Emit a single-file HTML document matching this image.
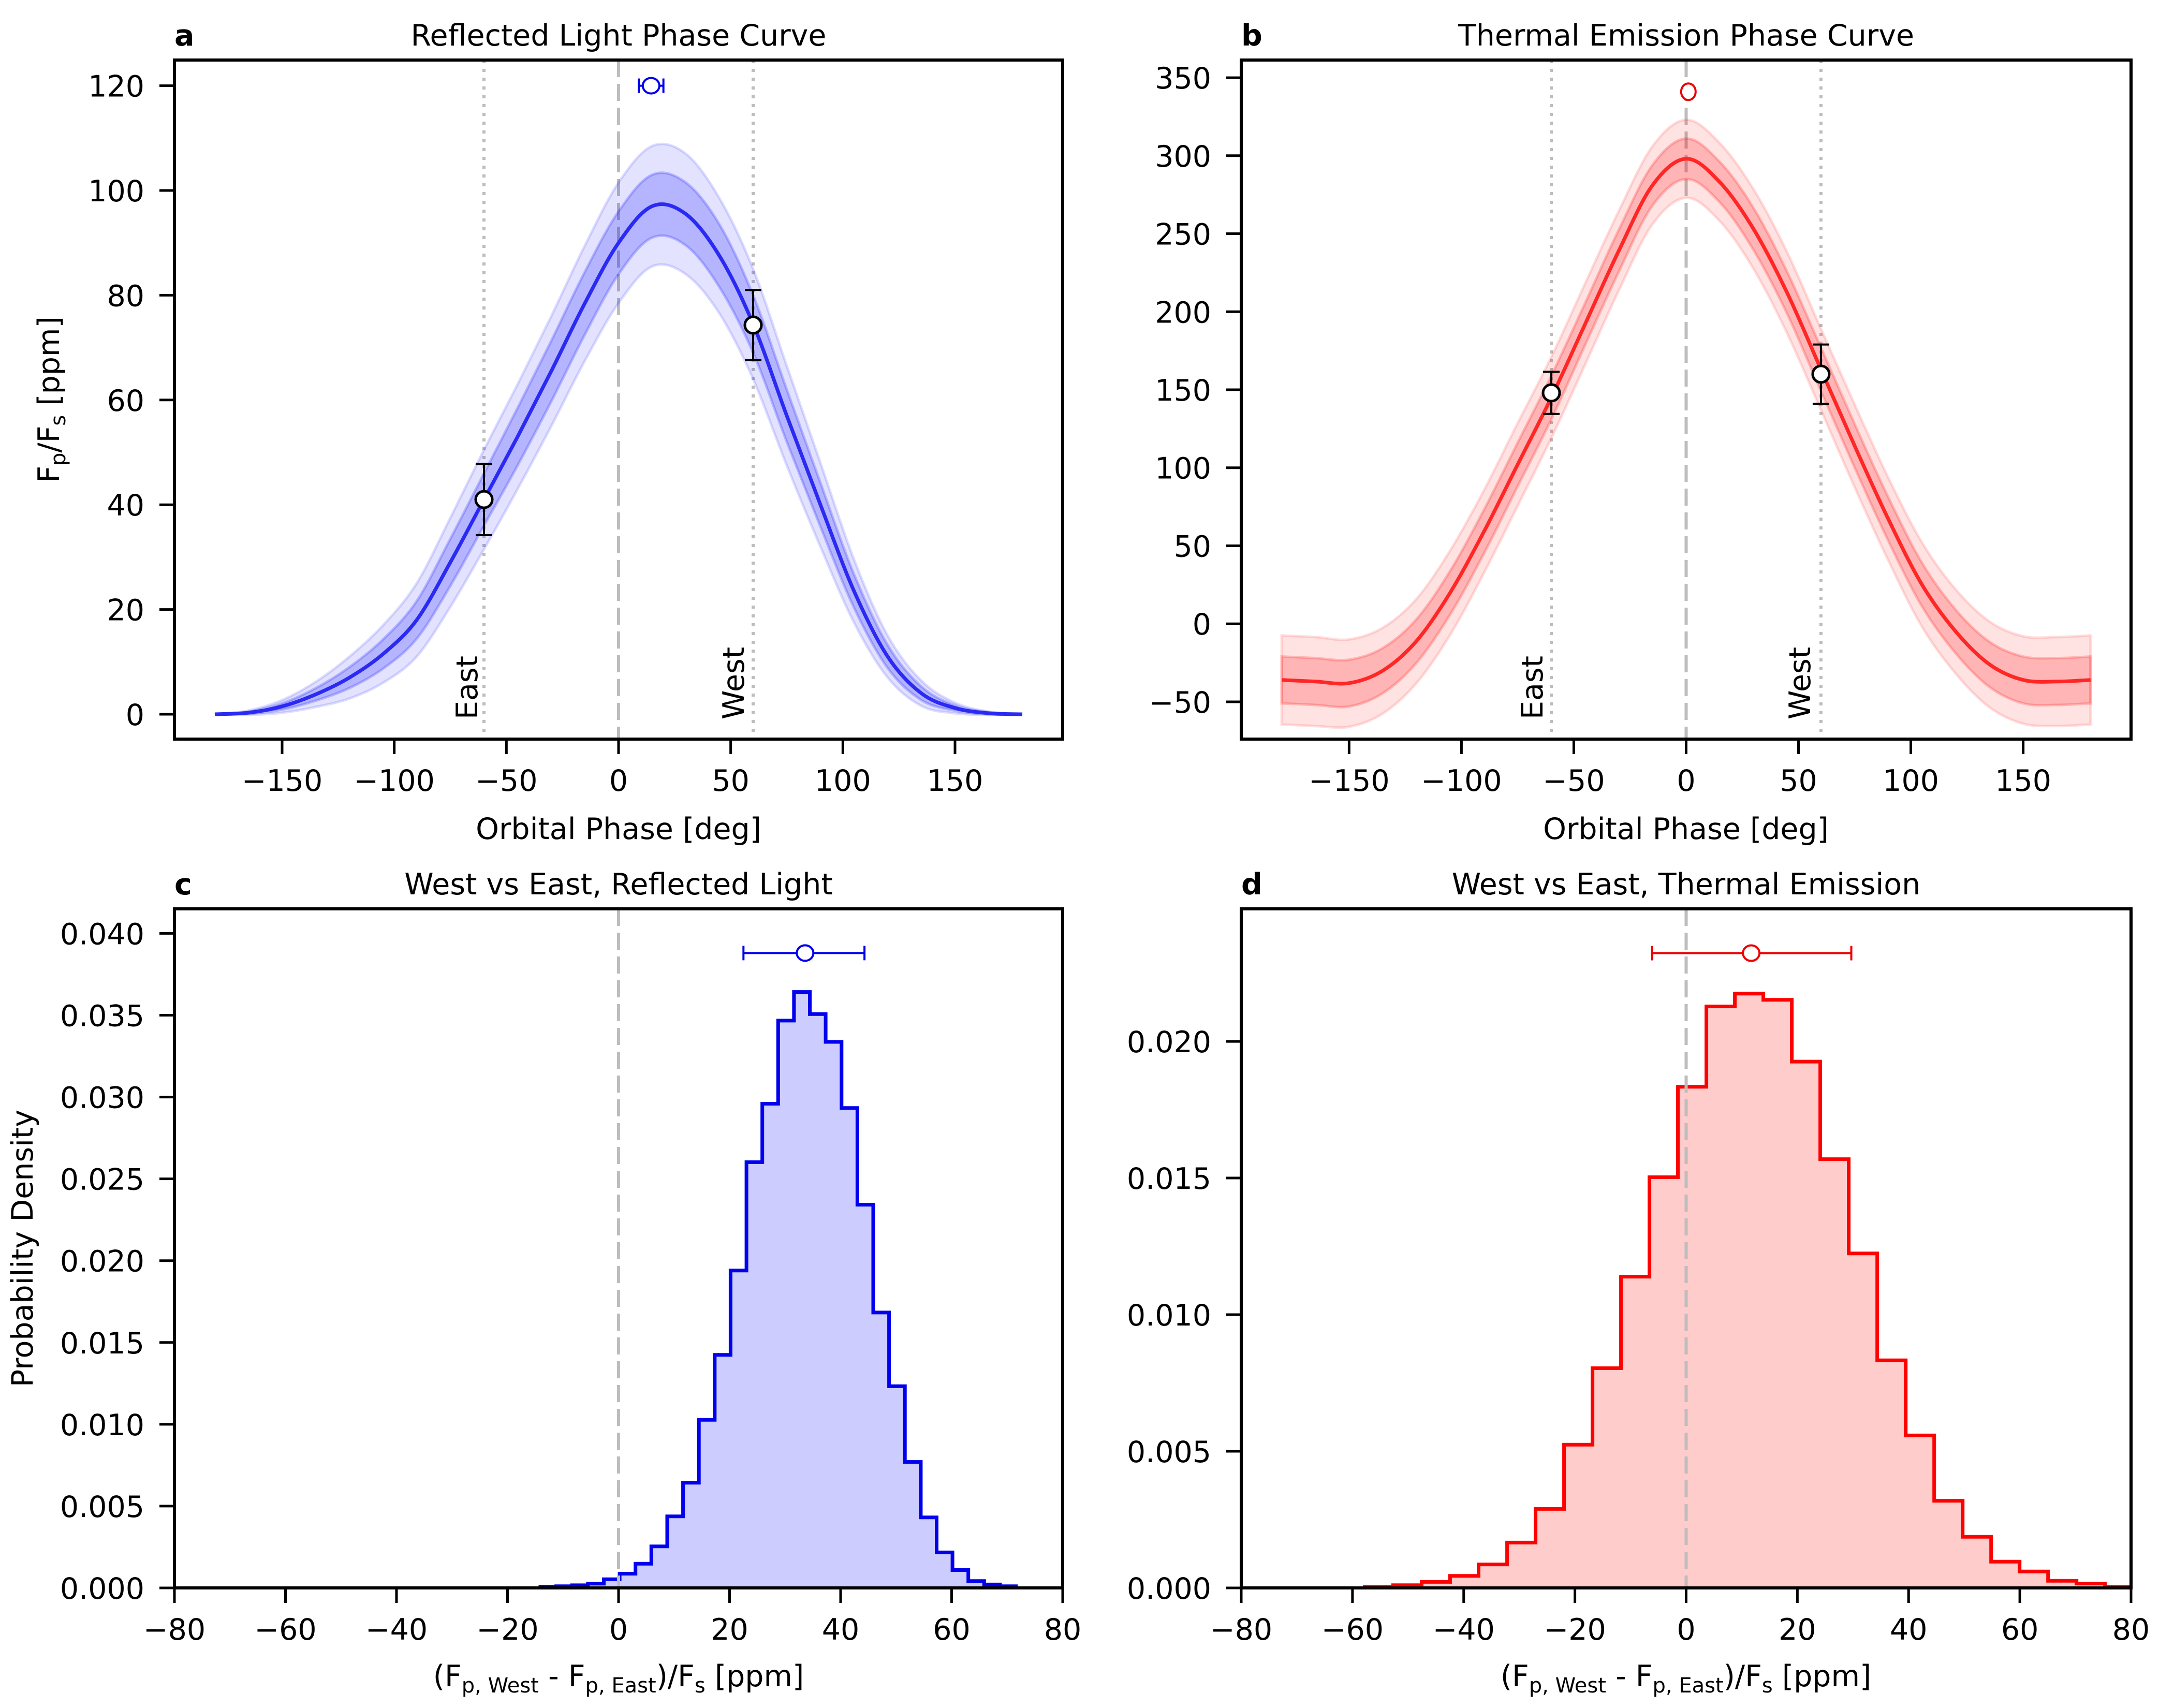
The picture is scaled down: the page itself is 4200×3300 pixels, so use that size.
<!DOCTYPE html>
<html><head><meta charset="utf-8"><title>Phase curves</title>
<style>
html,body{margin:0;padding:0;background:#fff;}
svg{display:block;font-family:"DejaVu Sans","Liberation Sans",sans-serif;}
</style></head>
<body>
<svg id="fig" xmlns="http://www.w3.org/2000/svg" width="4200" height="3300" viewBox="0 0 4200 3300">
<rect x="0" y="0" width="4200" height="3300" fill="#fff"/>
</svg>
<script>
// ---------- Panel a: reflected light phase curve ----------
const phaseA = [-180,-165,-150,-135,-120,-105,-90,-75,-60,-45,-30,-15,0,15,30,45,60,75,90,105,120,135,150,165,180];
const meanA  = [0,0.3,1.5,3.8,7,11.5,18,29,41,53,65.5,78.5,90,97,95.5,87.5,74.5,57,40,23.5,11,4,1.2,0.2,0];
const sig1A  = [0,0.2,0.6,1.2,2,2.8,3.6,4.5,5,5.5,5.8,6,6,6,6,6,5.5,5,4.2,3.2,2.2,1.3,0.5,0.2,0];
const sig2A  = [0,0.4,1.2,2.4,4,5.5,7,8.5,9.5,10,10.5,11,11.5,11.5,11.5,11,10.5,9.5,8,6,4,2.4,1,0.3,0];
const ptsAx = [-60,60];
const ptsAy = [41,74.3];
const ptsAerr = [6.8,6.7];
const hotA = [14.5,120,5.5];
const ticksAx = [-150,-100,-50,0,50,100,150];
const ticksAy = [0,20,40,60,80,100,120];
// ---------- Panel b: thermal emission phase curve ----------
const phaseB = [-180,-165,-150,-135,-120,-105,-90,-75,-60,-45,-30,-15,0,15,30,45,60,75,90,105,120,135,150,165,180];
const meanB  = [-36,-37,-38,-30,-11,20,59,102,145,192,239,281,298,283,253,212,163,114,67,25,-5,-26,-36,-37,-36];
const sig1B  = [15,15,15,14.5,14,14,14,14,14,13.5,13.5,13,13,13,13.5,13.5,14,14,14,14,14,14.5,15,15,15];
const sig2B  = [28.5,28.5,28,27.5,27,27,26.5,26.5,26,26,25.5,25,25,25,25.5,26,26,26.5,26.5,27,27,27.5,28,28.5,28.5];
const ptsBx = [-60,60];
const ptsBy = [148,160];
const ptsBerr = [13.5,19];
const hotB = [1,341];
const ticksBx = [-150,-100,-50,0,50,100,150];
const ticksBy = [-50,0,50,100,150,200,250,300,350];
// ---------- Panel c: reflected histogram ----------
const histCstart = -14.08;
const histCwidth = 2.855;
const histC = [0.00008,0.0001,0.00016,0.00026,0.00053,0.00087,0.00148,0.00254,0.00437,0.00643,0.01027,0.01424,0.0194,0.02602,0.02959,0.03467,0.03642,0.03507,0.03337,0.02933,0.02342,0.01683,0.01233,0.0077,0.00431,0.00217,0.00109,0.00042,0.00021,0.0001];
const summC = [33.6,22.5,44.3,0.0388];
const ticksCx = [-80,-60,-40,-20,0,20,40,60,80];
const ticksCy = [0,0.005,0.01,0.015,0.02,0.025,0.03,0.035,0.04];
// ---------- Panel d: thermal histogram ----------
const histDstart = -57.8;
const histDwidth = 5.12;
const histD = [0.00004,0.0001,0.00022,0.00044,0.00086,0.00166,0.00289,0.00524,0.00804,0.01139,0.01503,0.01834,0.02128,0.02175,0.02152,0.01926,0.01569,0.01224,0.00833,0.00558,0.00319,0.00187,0.00096,0.0006,0.00026,0.00016,0.00004];
const summD = [11.7,-6.1,29.7,0.02323];
const ticksDx = [-80,-60,-40,-20,0,20,40,60,80];
const ticksDy = [0,0.005,0.01,0.015,0.02];

const NS = "http://www.w3.org/2000/svg";
const FS = 57;
const svg = document.getElementById('fig');
function mk(tag, attrs, parent){
  const e = document.createElementNS(NS, tag);
  for (const k in attrs) e.setAttribute(k, attrs[k]);
  (parent||svg).appendChild(e);
  return e;
}
function axes(L,R,T,B,x0,x1,y0,y1){
  return {L,R,T,B,sx:v=>L+(v-x0)/(x1-x0)*(R-L), sy:v=>B-(v-y0)/(y1-y0)*(B-T)};
}
function smooth(pts){
  let d = 'M'+pts[0][0].toFixed(1)+','+pts[0][1].toFixed(1);
  for (let i=0;i<pts.length-1;i++){
    const p0=pts[Math.max(0,i-1)],p1=pts[i],p2=pts[i+1],p3=pts[Math.min(pts.length-1,i+2)];
    const c1=[p1[0]+(p2[0]-p0[0])/6,p1[1]+(p2[1]-p0[1])/6];
    const c2=[p2[0]-(p3[0]-p1[0])/6,p2[1]-(p3[1]-p1[1])/6];
    d+=' C'+c1[0].toFixed(1)+','+c1[1].toFixed(1)+' '+c2[0].toFixed(1)+','+c2[1].toFixed(1)+' '+p2[0].toFixed(1)+','+p2[1].toFixed(1);
  }
  return d;
}
function smoothBack(pts){
  const r = pts.slice().reverse();
  const s = smooth(r);
  return ' L'+s.slice(1);
}
function fmt(v,dec){ const s=v.toFixed(dec); return s.replace('-','\u2212'); }

function frame(ax, xt, yt, xdec, ydec, title, letter, name){
  xt.forEach(v=>{
    const x=ax.sx(v);
    const t=mk('line',{x1:x,y1:ax.B,x2:x,y2:ax.B+29,stroke:'#000','stroke-width':5});
    
    
    const l=mk('text',{x:x,y:ax.B+100,'font-size':FS,'text-anchor':'middle',fill:'#000'});
    l.textContent=fmt(v,xdec);
    
    
  });
  yt.forEach(v=>{
    const y=ax.sy(v);
    const t=mk('line',{x1:ax.L-29,y1:y,x2:ax.L,y2:y,stroke:'#000','stroke-width':5});
    
    
    const l=mk('text',{x:ax.L-58,y:y+21,'font-size':FS,'text-anchor':'end',fill:'#000'});
    l.textContent=fmt(v,ydec);
    
    
  });
  const sp=mk('rect',{x:ax.L,y:ax.T,width:ax.R-ax.L,height:ax.B-ax.T,fill:'none',stroke:'#000','stroke-width':6});
  
  
  const tt=mk('text',{x:(ax.L+ax.R)/2,y:ax.T-28,'font-size':FS,'text-anchor':'middle',fill:'#000'});
  tt.textContent=title;
  
  
  const lt=mk('text',{x:ax.L,y:ax.T-28,'font-size':FS,'font-weight':'bold',fill:'#000'});
  lt.textContent=letter;
  
  
}
function vline(ax, v, dash, color, name){
  const x=ax.sx(v);
  const l=mk('line',{x1:x,y1:ax.T,x2:x,y2:ax.B,stroke:color,'stroke-width':6,'stroke-dasharray':dash});
  
  
}
function rotText(x,y,txt,name){
  const t=mk('text',{x:0,y:0,'font-size':FS,'text-anchor':'start',fill:'#000',transform:'translate('+x+','+y+') rotate(-90)'});
  t.textContent=txt;
  
  
  return t;
}
function curvePanel(ax, xs, mean, s1, s2, rgb, lineCol, name){
  const up2=xs.map((x,i)=>[ax.sx(x),ax.sy(mean[i]+s2[i])]);
  const lo2=xs.map((x,i)=>[ax.sx(x),ax.sy(mean[i]-s2[i])]);
  const up1=xs.map((x,i)=>[ax.sx(x),ax.sy(mean[i]+s1[i])]);
  const lo1=xs.map((x,i)=>[ax.sx(x),ax.sy(mean[i]-s1[i])]);
  const b2=mk('path',{d:smooth(up2)+smoothBack(lo2)+' Z',fill:'rgba('+rgb+',0.11)',stroke:'rgba('+rgb+',0.13)','stroke-width':5});
  
  
  const b1=mk('path',{d:smooth(up1)+smoothBack(lo1)+' Z',fill:'rgba('+rgb+',0.2)',stroke:'rgba('+rgb+',0.2)','stroke-width':5});
  
  
  const m=mk('path',{d:smooth(xs.map((x,i)=>[ax.sx(x),ax.sy(mean[i])])),fill:'none',stroke:lineCol,'stroke-width':7});
  
  
}
function errPoint(ax,x,y,e,name){
  const X=ax.sx(x),y1=ax.sy(y-e),y2=ax.sy(y+e);
  const g=mk('g',{});
  
  
  mk('line',{x1:X,y1:y1,x2:X,y2:y2,stroke:'#000','stroke-width':4},g);
  mk('line',{x1:X-16,y1:y1,x2:X+16,y2:y1,stroke:'#000','stroke-width':4},g);
  mk('line',{x1:X-16,y1:y2,x2:X+16,y2:y2,stroke:'#000','stroke-width':4},g);
  mk('circle',{cx:X,cy:ax.sy(y),r:16,fill:'#fff',stroke:'#000','stroke-width':5},g);
}
function hErr(ax,c,lo,hi,y,col,name){
  const g=mk('g',{});
  
  
  const Y=ax.sy(y);
  mk('line',{x1:ax.sx(lo),y1:Y,x2:ax.sx(hi),y2:Y,stroke:col,'stroke-width':4},g);
  mk('line',{x1:ax.sx(lo),y1:Y-14,x2:ax.sx(lo),y2:Y+14,stroke:col,'stroke-width':4},g);
  mk('line',{x1:ax.sx(hi),y1:Y-14,x2:ax.sx(hi),y2:Y+14,stroke:col,'stroke-width':4},g);
  mk('ellipse',{cx:ax.sx(c),cy:Y,rx:16,ry:15,fill:'#fff',stroke:col,'stroke-width':4},g);
}
function hist(ax,start,w,vals,fillC,lineC,name,clipId){
  let d='M'+ax.sx(start).toFixed(1)+','+ax.sy(0).toFixed(1);
  vals.forEach((v,i)=>{
    d+=' L'+ax.sx(start+i*w).toFixed(1)+','+ax.sy(v).toFixed(1);
    d+=' L'+ax.sx(start+(i+1)*w).toFixed(1)+','+ax.sy(v).toFixed(1);
  });
  d+=' L'+ax.sx(start+vals.length*w).toFixed(1)+','+ax.sy(0).toFixed(1);
  const cp=mk('clipPath',{id:clipId});
  mk('rect',{x:ax.L,y:ax.T,width:ax.R-ax.L,height:ax.B-ax.T},cp);
  const f=mk('path',{d:d+' Z',fill:fillC,stroke:'none','clip-path':'url(#'+clipId+')'});
  
  
  const l=mk('path',{d:d,fill:'none',stroke:lineC,'stroke-width':7,'clip-path':'url(#'+clipId+')'});
  
  
}
function subLabel(x,y,parts,name,rot){
  const attrs={x:0,y:0,'font-size':FS,'text-anchor':'middle',fill:'#000',transform:'translate('+x+','+y+')'+(rot?' rotate(-90)':'')};
  const t=mk('text',attrs);
  
  
  let cur=0;
  parts.forEach(p=>{
    const target=p[1]?12:0;
    const s=mk('tspan',{dy:target-cur,'font-size':p[1]?40:FS},t);
    cur=target;
    s.textContent=p[0];
  });
  return t;
}

// ===== Panel a =====
const A = axes(337,2053,116,1428,-198,198,-4.74,124.9);
vline(A,-60,'6 11','#bdbdbd','east-marker-line-a');
vline(A,60,'6 11','#bdbdbd','west-marker-line-a');
vline(A,0,'33 13','#bdbdbd','zero-phase-line-a');
curvePanel(A,phaseA,meanA,sig1A,sig2A,'0,0,255','#2a2af2','reflected');
ptsAx.forEach((x,i)=>errPoint(A,x,ptsAy[i],ptsAerr[i],'reflected-data-point'));
hErr(A,hotA[0],hotA[0]-hotA[2],hotA[0]+hotA[2],hotA[1],'#0000ee','reflected-peak-offset');
rotText(922,1390,'East','east-label-a');
rotText(1437,1390,'West','west-label-a');
frame(A,ticksAx,ticksAy,0,0,'Reflected Light Phase Curve','a','panel-a');
subLabel(1195,1621,[['Orbital Phase [deg]',0]],'panel-a-x-axis-title');
subLabel(114,772,[['F',0],['p',1],['/F',0],['s',1],[' [ppm]',0]],'panel-a-y-axis-title',true);

// ===== Panel b =====
const Bp = axes(2398,4117,116,1428,-198,198,-73.9,361.3);
vline(Bp,-60,'6 11','#bdbdbd','east-marker-line-b');
vline(Bp,60,'6 11','#bdbdbd','west-marker-line-b');
vline(Bp,0,'33 13','#bdbdbd','zero-phase-line-b');
curvePanel(Bp,phaseB,meanB,sig1B,sig2B,'255,0,0','#ff2626','thermal');
ptsBx.forEach((x,i)=>errPoint(Bp,x,ptsBy[i],ptsBerr[i],'thermal-data-point'));
(function(){
  const c=mk('ellipse',{cx:Bp.sx(hotB[0]),cy:Bp.sy(hotB[1]),rx:14,ry:16,fill:'#fff',stroke:'#ee0000','stroke-width':4});
  
  
})();
rotText(2980,1390,'East','east-label-b');
rotText(3497,1390,'West','west-label-b');
frame(Bp,ticksBx,ticksBy,0,0,'Thermal Emission Phase Curve','b','panel-b');
subLabel(3257,1621,[['Orbital Phase [deg]',0]],'panel-b-x-axis-title');

// ===== Panel c =====
const C = axes(337,2053,1756,3068,-80,80,0,0.0415);
hist(C,histCstart,histCwidth,histC,'#ccccff','#0000ee','reflected-histogram','clipC');
vline(C,0,'33 13','#bdbdbd','zero-line-c');
hErr(C,summC[0],summC[1],summC[2],summC[3],'#0000ee','reflected-difference-summary');
frame(C,ticksCx,ticksCy,0,3,'West vs East, Reflected Light','c','panel-c');
subLabel(1195,3258,[['(F',0],['p, West',1],[' - F',0],['p, East',1],[')/F',0],['s',1],[' [ppm]',0]],'panel-c-x-axis-title');
subLabel(63,2412,[['Probability Density',0]],'panel-c-y-axis-title',true);

// ===== Panel d =====
const D = axes(2398,4117,1756,3068,-80,80,0,0.02485);
hist(D,histDstart,histDwidth,histD,'#ffcccc','#ff0000','thermal-histogram','clipD');
vline(D,0,'33 13','#bdbdbd','zero-line-d');
hErr(D,summD[0],summD[1],summD[2],summD[3],'#ee0000','thermal-difference-summary');
frame(D,ticksDx,ticksDy,0,3,'West vs East, Thermal Emission','d','panel-d');
subLabel(3257,3258,[['(F',0],['p, West',1],[' - F',0],['p, East',1],[')/F',0],['s',1],[' [ppm]',0]],'panel-d-x-axis-title');
</script>
</body></html>
